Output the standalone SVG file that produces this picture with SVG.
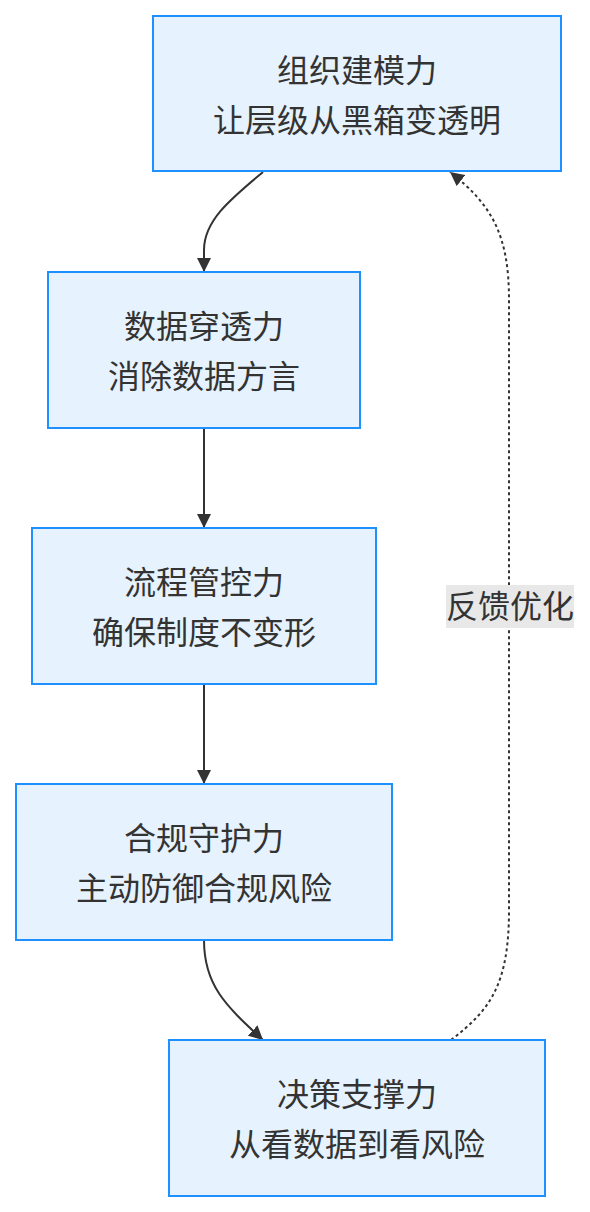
<svg xmlns="http://www.w3.org/2000/svg" width="590" height="1212" viewBox="0 0 590 1212">
<style>
.node rect{fill:#e6f2fd;stroke:#1e90ff;stroke-width:2}
text{font-family:"Noto Sans CJK SC","Noto Sans",sans-serif;font-size:32px;fill:#333;text-anchor:middle}
.edge{fill:none;stroke:#333;stroke-width:2}
.dash{stroke-dasharray:3,3}
</style>
<defs>
<marker id="ah" viewBox="0 0 10 10" refX="10" refY="5" markerWidth="14" markerHeight="14" markerUnits="userSpaceOnUse" orient="auto">
<path d="M0,0 L10,5 L0,10 z" fill="#333"/>
</marker>
</defs>
<g id="connectors">
<path class="edge" d="M263,172 C232,198 204,220 204,250 L204,272" marker-end="url(#ah)"/>
<path class="edge" d="M204,428 L204,528" marker-end="url(#ah)"/>
<path class="edge" d="M204,684 L204,784" marker-end="url(#ah)"/>
<path class="edge" d="M204,940 C204,985 225,1005 263,1040" marker-end="url(#ah)"/>
<path class="edge dash" d="M451,1040 C490,1010 509,985 509,910 L509,300 C509,235 492,205 450,172" marker-end="url(#ah)"/>
<rect x="446" y="585" width="128" height="43" fill="#e8e8e8"/>
<text x="510" y="618">反馈优化</text>
</g>
<g id="n1" class="node"><rect x="153" y="16" width="408" height="155"/><text x="357" y="82">组织建模力</text><text x="357" y="132">让层级从黑箱变透明</text></g>
<g id="n2" class="node"><rect x="48" y="272" width="312" height="156"/><text x="204" y="338">数据穿透力</text><text x="204" y="388">消除数据方言</text></g>
<g id="n3" class="node"><rect x="32" y="528" width="344" height="156"/><text x="204" y="594">流程管控力</text><text x="204" y="644">确保制度不变形</text></g>
<g id="n4" class="node"><rect x="16" y="784" width="376" height="156"/><text x="204" y="850">合规守护力</text><text x="204" y="900">主动防御合规风险</text></g>
<g id="n5" class="node"><rect x="169" y="1040" width="376" height="156"/><text x="357" y="1106">决策支撑力</text><text x="357" y="1156">从看数据到看风险</text></g>
</svg>
